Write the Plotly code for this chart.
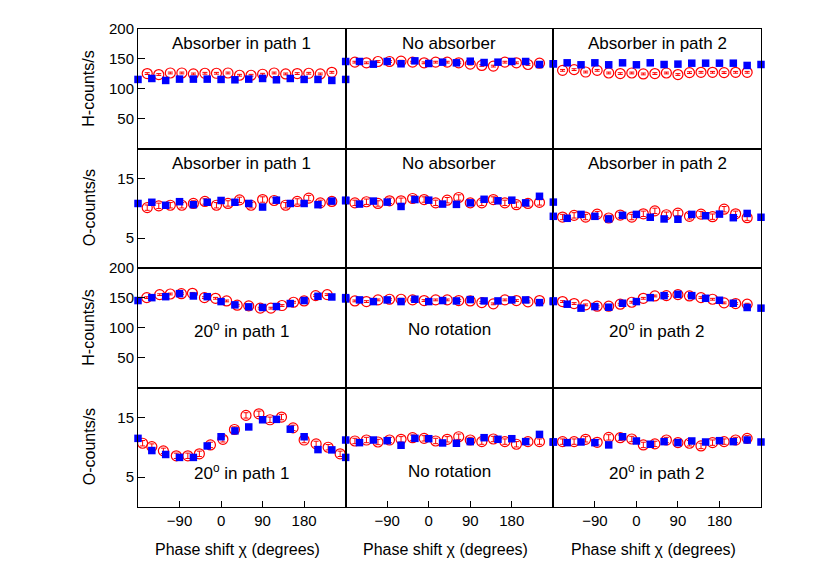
import plotly.graph_objects as go
from plotly.subplots import make_subplots

# ---------------- data ----------------
blue_x = [-180, -150, -120, -90, -60, -30, 0, 30, 60, 90, 120, 150, 180, 210, 240, 270]
red_x = [-160, -135, -110, -85, -60, -35, -10, 15, 40, 65, 90, 115, 140, 165, 190, 215, 240]
red_x_r3c1 = [-161, -133, -110, -86, -62, -36, -12, 12, 35, 60, 85, 108, 132, 157, 180, 205, 230]
red_x_r4c1 = [-170, -150, -125, -97, -72, -47, -23, 4, 29, 54, 82, 106, 131, 156, 180, 206, 232, 258]

# Row 1: H-counts, absorber
h_abs1_blue = [115.6, 117.2, 113.9, 116.1, 116.1, 116.1, 115.6, 115, 116.1, 117.2, 115, 117.2, 115.6, 115.6, 113.9, 115.6]
h_abs1_red = [125.4, 123.8, 126.4, 126.4, 124.8, 125.9, 125.9, 126.4, 122.6, 122.6, 124.3, 126.4, 124.8, 125.4, 125.9, 124.8, 127.5]
h_noabs_blue = [145.6, 145.6, 141.1, 145.6, 141.8, 146.7, 142.3, 144.5, 143.4, 146.1, 143.9, 144.5, 145.6, 145.6, 140.6, 141.8]
h_noabs_red = [144.5, 143.4, 145.6, 145.6, 146.1, 144.5, 143.4, 144.5, 144.5, 143.4, 141.2, 139, 137.9, 144.5, 143.4, 140.6, 142.8]
h_abs2_blue = [141.8, 143.4, 140.1, 143.4, 140.1, 143.4, 140.1, 143.4, 140.6, 141.2, 142.8, 142.8, 142.8, 142.8, 139, 140.6]
h_abs2_red = [130.8, 132, 128, 130.8, 126.4, 125.4, 126.4, 124.8, 125.4, 126.4, 123.8, 127, 127.5, 127.5, 127, 127.5, 127.5]

# Row 2: O-counts, absorber
o_abs1_blue = [10.8, 11.0, 10.5, 11.1, 10.6, 11.0, 11.3, 11.0, 10.8, 10.2, 11.35, 10.8, 10.8, 10.6, 11.2, 11.25]
o_abs1_red = [10.1, 10.4, 10.5, 10.5, 10.8, 11.14, 10.5, 10.8, 11.4, 10.5, 11.46, 11.3, 10.5, 11.14, 11.7, 10.9, 11.14]
o_noabs_blue = [11.35, 10.7, 11.2, 11.03, 10.3, 11.46, 11.35, 10.7, 10.65, 10.9, 11.5, 11.25, 11.35, 10.9, 12.0, 11.03]
o_noabs_red = [10.9, 11.09, 10.8, 11.25, 11.25, 11.63, 11.46, 10.9, 11.35, 11.8, 10.9, 10.9, 11.46, 10.9, 10.6, 10.8, 10.98]
o_abs2_blue = [8.65, 8.32, 8.97, 8.65, 8.21, 8.81, 8.97, 8.49, 8.21, 8.16, 8.97, 8.75, 9.02, 8.42, 9.13, 8.49]
o_abs2_red = [8.53, 8.81, 8.53, 9.02, 8.37, 8.86, 8.53, 9.07, 9.56, 8.91, 9.19, 8.65, 9.02, 8.59, 9.84, 9.07, 8.42]

# Row 3: H-counts, rotation
h_rot1_blue = [145.5, 150.4, 152, 157, 153.2, 152, 143.8, 138.3, 135, 133.9, 135.5, 140.5, 145.5, 152.6, 151.5, 148.2]
h_rot1_red = [150.4, 155.4, 156.5, 157, 157.6, 150.4, 149.3, 144.9, 137.7, 136.6, 132.8, 132.8, 137.2, 142.7, 144.9, 153.7, 155.4]
h_norot_blue = [150.4, 146.6, 143.8, 146.6, 143.8, 147.7, 143.8, 145.5, 144.9, 147.1, 144.9, 144.9, 146.6, 146.6, 142.1, 143.8]
h_norot_red = [144.9, 143.8, 146.6, 147.7, 147.7, 146.6, 145.5, 146.6, 146.6, 145.5, 144.9, 142.1, 140, 146.6, 145.5, 143.3, 145.5]
h_rot2_blue = [144.9, 139.4, 132.8, 135.5, 134.4, 141, 143.8, 150.4, 153.7, 155.9, 153.7, 149.3, 146, 141, 133.9, 132.8]
h_rot2_red = [143.8, 140.5, 138.3, 136.1, 136.1, 139.4, 142.7, 149.3, 153.2, 153.7, 155.4, 153.2, 150.4, 147.7, 141.6, 140.5, 139.4]

# Row 4: O-counts, rotation
o_rot1_blue = [11.49, 9.45, 8.79, 8.3, 8.3, 10.22, 11.76, 12.74, 13.4, 14.6, 14.67, 13.02, 11.76, 9.61, 9.56, 8.3]
o_rot1_red = [10.67, 10.11, 9.4, 8.57, 8.57, 8.9, 10.39, 11.33, 12.97, 15.33, 15.6, 14.6, 15.05, 13.24, 11.21, 10.56, 10.0, 8.9]
o_norot_blue = [11.21, 10.77, 11.21, 11.1, 10.33, 11.49, 11.43, 10.72, 10.67, 10.94, 11.6, 11.33, 11.43, 10.94, 12.15, 10.88]
o_norot_red = [11.05, 11.21, 10.88, 11.21, 11.33, 11.6, 11.49, 11.05, 11.33, 11.76, 11.21, 10.94, 11.38, 10.94, 10.5, 10.94, 10.94]
o_rot2_blue = [10.88, 10.77, 10.88, 10.77, 10.39, 11.76, 11.05, 10.5, 10.94, 10.77, 11.05, 10.88, 11.1, 10.94, 11.21, 10.88]
o_rot2_red = [10.94, 10.94, 11.33, 10.83, 11.65, 11.6, 11.38, 10.39, 10.56, 11.21, 10.77, 10.67, 10.22, 10.77, 10.94, 11.21, 11.49]

h_err = 1.5
o_err = 0.45

panel_labels = [
    ["Absorber in path 1", "No absorber", "Absorber in path 2"],
    ["Absorber in path 1", "No absorber", "Absorber in path 2"],
    ["20<sup>o</sup> in path 1", "No rotation", "20<sup>o</sup> in path 2"],
    ["20<sup>o</sup> in path 1", "No rotation", "20<sup>o</sup> in path 2"],
]
row_titles = ["H-counts/s", "O-counts/s", "H-counts/s", "O-counts/s"]
h_ticks = [50, 100, 150, 200]
o_ticks = [5, 15]
x_ticks = [-90, 0, 90, 180]
x_title = "Phase shift χ (degrees)"

panels = [
    [(h_abs1_blue, h_abs1_red, red_x), (h_noabs_blue, h_noabs_red, red_x), (h_abs2_blue, h_abs2_red, red_x)],
    [(o_abs1_blue, o_abs1_red, red_x), (o_noabs_blue, o_noabs_red, red_x), (o_abs2_blue, o_abs2_red, red_x)],
    [(h_rot1_blue, h_rot1_red, red_x_r3c1), (h_norot_blue, h_norot_red, red_x), (h_rot2_blue, h_rot2_red, red_x)],
    [(o_rot1_blue, o_rot1_red, red_x_r4c1), (o_norot_blue, o_norot_red, red_x), (o_rot2_blue, o_rot2_red, red_x)],
]

# ---------------- figure ----------------
FONT = "Liberation Sans, Arial, sans-serif"
fig = make_subplots(rows=4, cols=3, horizontal_spacing=0, vertical_spacing=0)

for r in range(4):
    is_h = r in (0, 2)
    err = h_err if is_h else o_err
    for c in range(3):
        bvals, rvals, rx = panels[r][c]
        fig.add_trace(go.Scatter(
            x=rx, y=rvals, mode="markers",
            marker=dict(symbol="circle-open", size=10, color="#ff0000", line=dict(width=1.2, color="#ff0000")),
            error_y=dict(type="constant", value=err, color="#ff0000", thickness=1, width=2.5),
            cliponaxis=False, showlegend=False), row=r + 1, col=c + 1)
        fig.add_trace(go.Scatter(
            x=blue_x, y=bvals, mode="markers",
            marker=dict(symbol="square", size=7.5, color="#0000ff"),
            cliponaxis=False, showlegend=False), row=r + 1, col=c + 1)

        xaxis_kw = dict(range=[-180, 270], showline=True, mirror=True, linecolor="black", linewidth=1,
                        showgrid=False, zeroline=False)
        if r == 3:
            xaxis_kw.update(tickmode="array", tickvals=x_ticks, ticks="inside", ticklen=6,
                            tickcolor="black", showticklabels=True,
                            tickfont=dict(family=FONT, size=15, color="black"))
        else:
            xaxis_kw.update(ticks="", showticklabels=False)
        fig.update_xaxes(row=r + 1, col=c + 1, **xaxis_kw)

        yaxis_kw = dict(range=[0, 200] if is_h else [0, 20], showline=True, mirror=True, linecolor="black",
                        linewidth=1, showgrid=False, zeroline=False)
        if c == 0:
            yaxis_kw.update(tickmode="array", tickvals=h_ticks if is_h else o_ticks, ticks="inside", ticklen=7,
                            tickcolor="black", showticklabels=True,
                            tickfont=dict(family=FONT, size=15, color="black"))
        else:
            yaxis_kw.update(ticks="", showticklabels=False)
        fig.update_yaxes(row=r + 1, col=c + 1, **yaxis_kw)

annotations = []
for r in range(4):
    for c in range(3):
        idx = r * 3 + c + 1
        xs = "" if idx == 1 else str(idx)
        ypos = 0.875 if r < 2 else 0.485 if r == 2 else 0.295
        annotations.append(dict(text=panel_labels[r][c], xref=f"x{xs} domain", yref=f"y{xs} domain",
                                x=0.5, y=ypos, xanchor="center", yanchor="middle", showarrow=False,
                                font=dict(family=FONT, size=17, color="black")))
    ys = "" if r == 0 else str(r * 3 + 1)
    annotations.append(dict(text=row_titles[r], xref="paper", yref=f"y{ys} domain",
                            x=(89 - 138) / 623, y=0.5, xanchor="center", yanchor="middle",
                            textangle=-90, showarrow=False,
                            font=dict(family=FONT, size=16, color="black")))
for c in range(3):
    xs = str(9 + c + 1)
    annotations.append(dict(text=x_title, xref=f"x{xs} domain", yref="paper",
                            x=0.48, y=(507 - 550) / 483, xanchor="center", yanchor="middle",
                            showarrow=False,
                            font=dict(family=FONT, size=16, color="black")))

fig.update_layout(
    width=830, height=581,
    margin=dict(l=130, r=77, t=16, b=82),
    paper_bgcolor="white", plot_bgcolor="white",
    annotations=annotations,
    font=dict(family=FONT, color="black"),
)

fig.write_html("out.html")
